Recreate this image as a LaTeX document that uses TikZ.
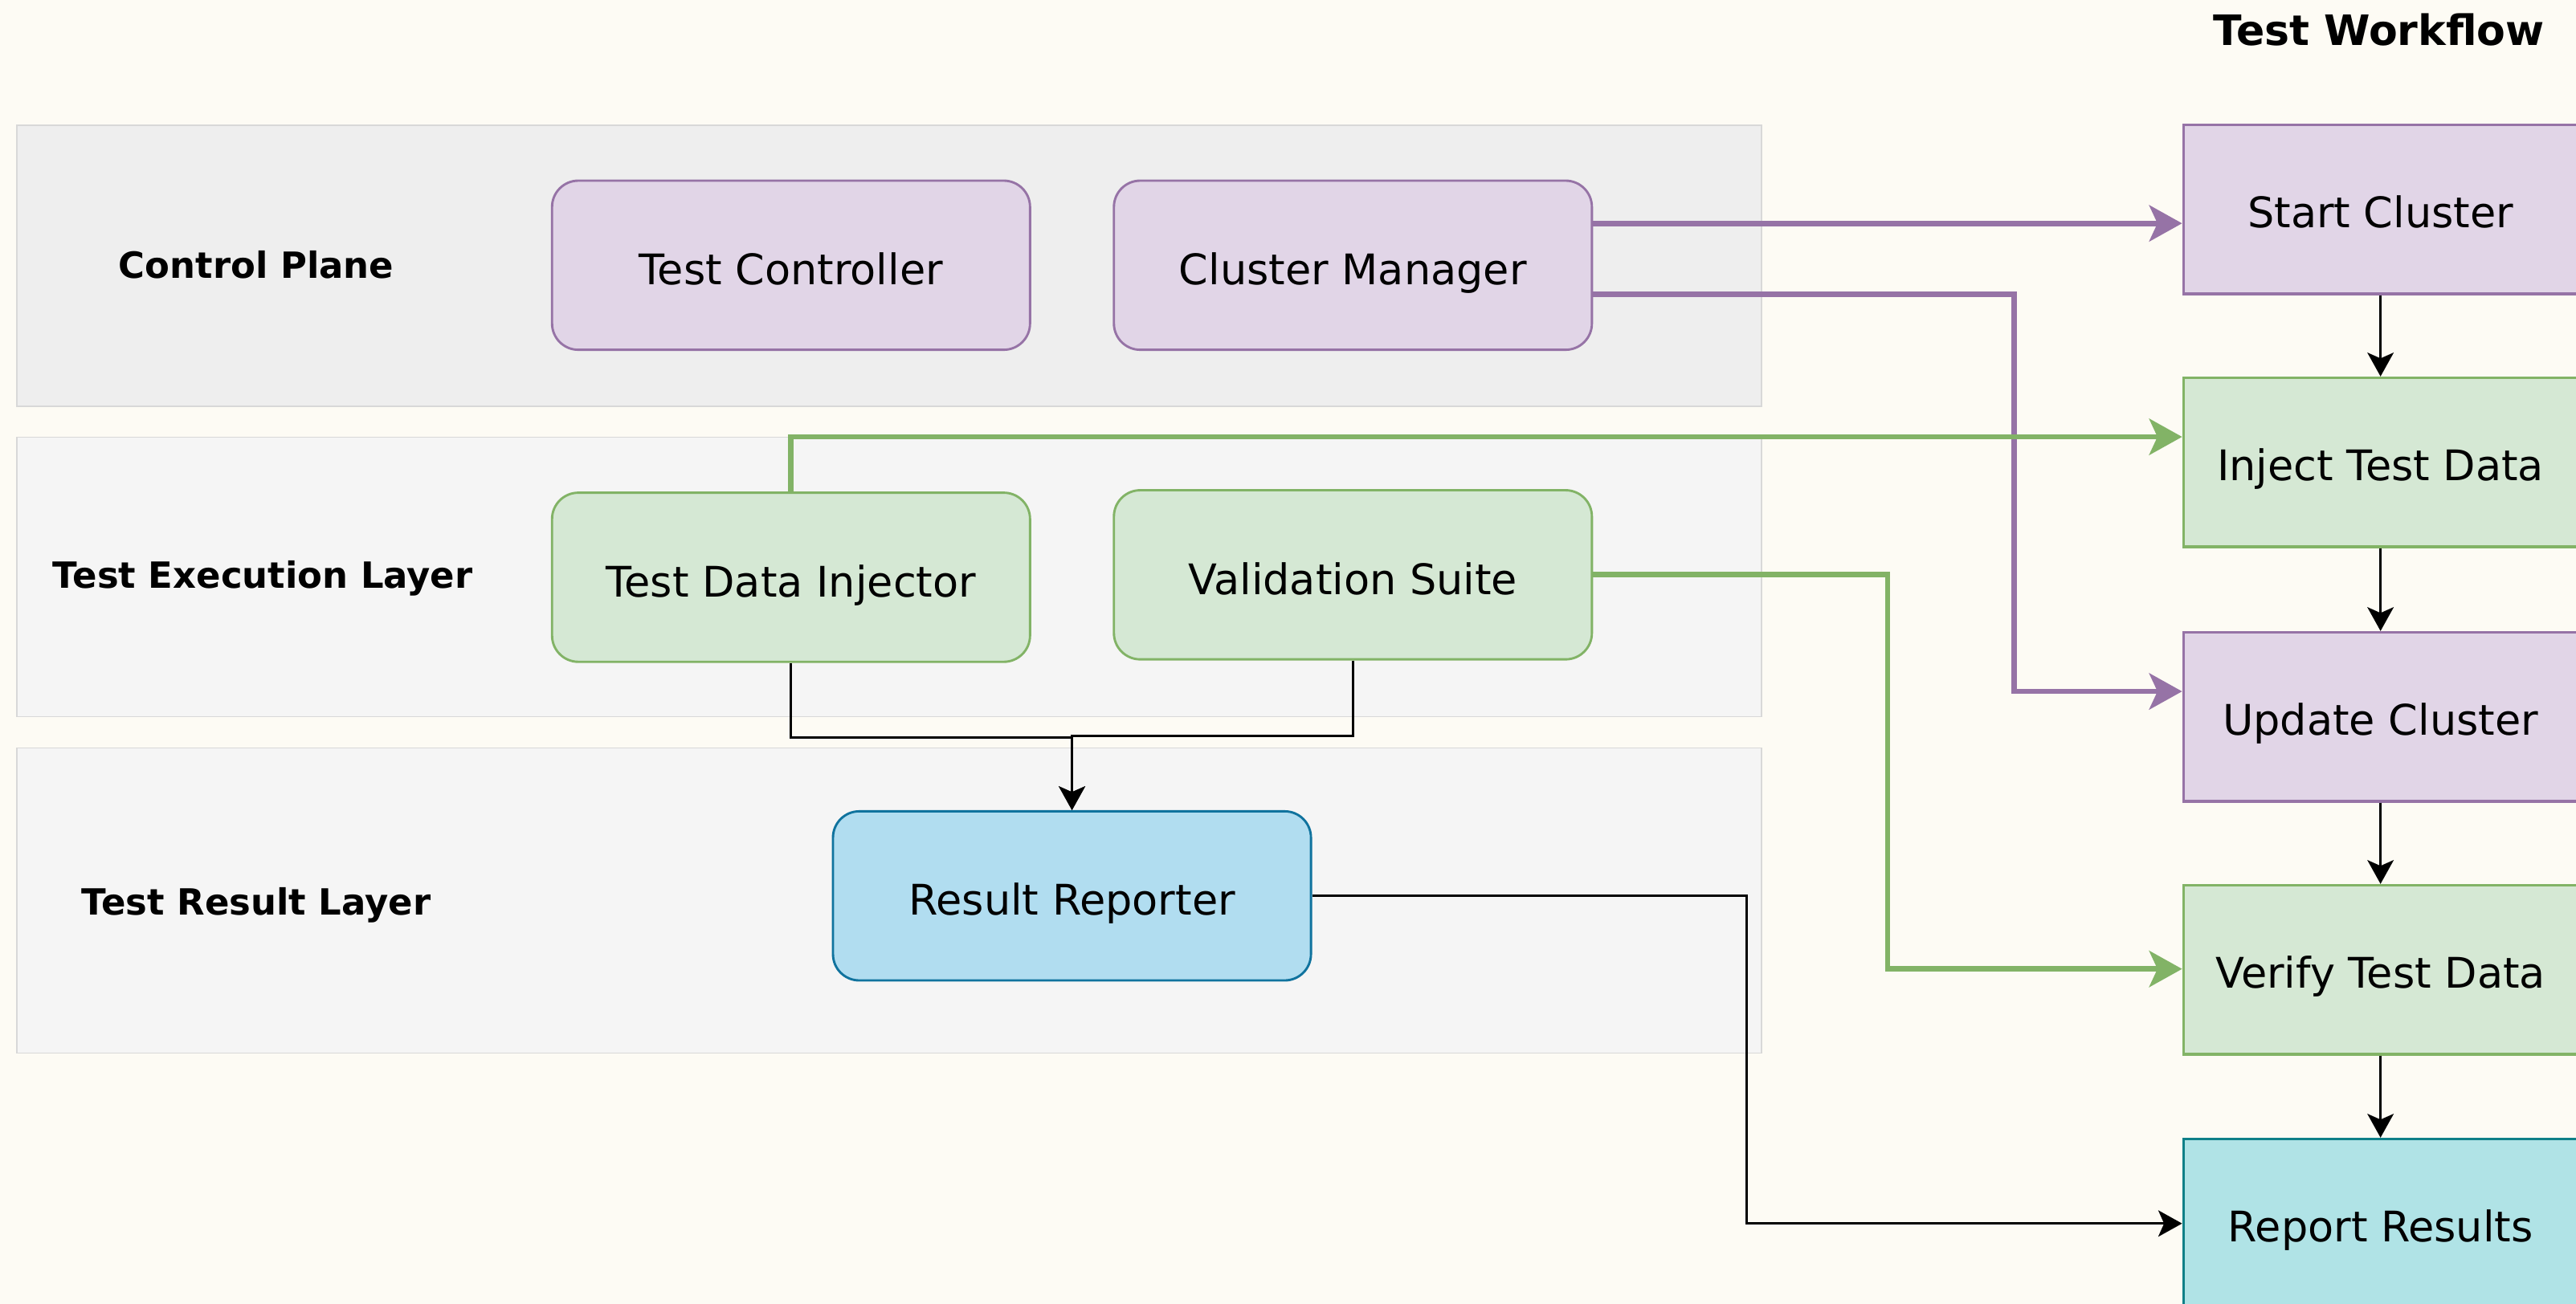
\documentclass[tikz,border=0pt]{standalone}
\usepackage{fontspec}
\setmainfont{DejaVu Sans}
\usetikzlibrary{arrows.meta}

\definecolor{paper}{HTML}{FDFBF4}
\definecolor{bandA}{HTML}{EEEEEE}
\definecolor{bandB}{HTML}{F5F5F5}
\definecolor{bandline}{HTML}{D8D8D8}
\definecolor{purpleFill}{HTML}{E1D5E7}
\definecolor{purpleLine}{HTML}{9673A6}
\definecolor{greenFill}{HTML}{D5E8D4}
\definecolor{greenLine}{HTML}{82B366}
\definecolor{blueFill}{HTML}{B1DDF0}
\definecolor{blueLine}{HTML}{10739E}
\definecolor{tealFill}{HTML}{B0E3E6}
\definecolor{tealLine}{HTML}{0E8088}

\tikzset{
  band/.style={draw=bandline, line width=0.4pt, anchor=north west, inner sep=0pt},
  bandlabel/.style={font=\bfseries\fontsize{12.5}{15}\selectfont,
    text height=9.5pt, text depth=0pt},
  comp/.style={rounded corners=0.32cm, line width=0.8pt, minimum width=5.82cm,
    minimum height=2.06cm, inner sep=0pt, font=\fontsize{14.6}{17}\selectfont,
    text height=13.5pt, text depth=0pt},
  stepbox/.style={line width=0.9pt, minimum width=4.8cm, minimum height=2.06cm,
    inner sep=0pt, font=\fontsize{14.6}{17}\selectfont,
    text height=12.9pt, text depth=0pt},
  purplebox/.style={fill=purpleFill, draw=purpleLine},
  greenbox/.style={fill=greenFill, draw=greenLine},
  flow/.style={line width=0.85pt, -{Stealth[length=0.29cm, width=0.32cm, inset=0.07cm]}},
  purpleflow/.style={draw=purpleLine, line width=1.9pt,
    -{Stealth[length=0.4cm, width=0.44cm, inset=0.1cm]}},
  greenflow/.style={draw=greenLine, line width=1.9pt,
    -{Stealth[length=0.4cm, width=0.44cm, inset=0.1cm]}},
}

\begin{document}
\begin{tikzpicture}[x=0.02cm, y=-0.02cm]
\useasboundingbox (0,0) rectangle (1568,794);
\fill[paper] (0,0) rectangle (1568,794);

% layer bands
\node[band, fill=bandA, minimum width=21.24cm, minimum height=3.42cm] (cpband) at (10,76) {};
\node[band, fill=bandB, minimum width=21.24cm, minimum height=3.40cm] (exband) at (10,266) {};
\node[band, fill=bandB, minimum width=21.24cm, minimum height=3.72cm] (rsband) at (10,455) {};

\node[bandlabel] (cplabel) at (156,161) {Control Plane};
\node[bandlabel] (exlabel) at (160,350) {Test Execution Layer};
\node[bandlabel] (rslabel) at (156,549) {Test Result Layer};

% components
\node[comp, purplebox] (tc) at (481.5,161.5) {Test Controller};
\node[comp, purplebox] (cm) at (823.5,161.5) {Cluster Manager};
\node[comp, greenbox] (tdi) at (481.5,351.5) {Test Data Injector};
\node[comp, greenbox] (vs) at (823.5,350) {Validation Suite};
\node[comp, fill=blueFill, draw=blueLine] (rr) at (652.5,545.5) {Result Reporter};

% workflow column
\node[font=\bfseries\fontsize{14.5}{17}\selectfont, text height=11pt, text depth=0pt]
  (wftitle) at (1448,18) {Test Workflow};
\node[stepbox, purplebox] (s1) at (1449,127.5) {Start Cluster};
\node[stepbox, greenbox] (s2) at (1449,281.5) {Inject Test Data};
\node[stepbox, purplebox] (s3) at (1449,436.5) {Update Cluster};
\node[stepbox, greenbox] (s4) at (1449,590.5) {Verify Test Data};
\node[stepbox, fill=tealFill, draw=tealLine] (s5) at (1449,745) {Report Results};

\draw[flow] (s1) -- (s2);
\draw[flow] (s2) -- (s3);
\draw[flow] (s3) -- (s4);
\draw[flow] (s4) -- (s5);

% component to workflow links
\draw[purpleflow] (cm.east |- 0,136) -- (s1.west |- 0,136);
\draw[purpleflow] (cm.east |- 0,179) -- (1226,179) -- (1226,421) -- (s3.west |- 0,421);
\draw[greenflow] (tdi.north) |- (s2.west |- 0,266);
\draw[greenflow] (vs.east) -- (1149,350) -- (1149,590) -- (s4.west |- 0,590);

% results path
\draw[flow] (tdi.south) |- (rr.north |- 0,449) -- (rr.north);
\draw[flow] (vs.south) |- (rr.north |- 0,448) -- (rr.north);
\draw[flow] (rr.east) -| (1063,745) -- (s5.west);
\end{tikzpicture}
\end{document}
